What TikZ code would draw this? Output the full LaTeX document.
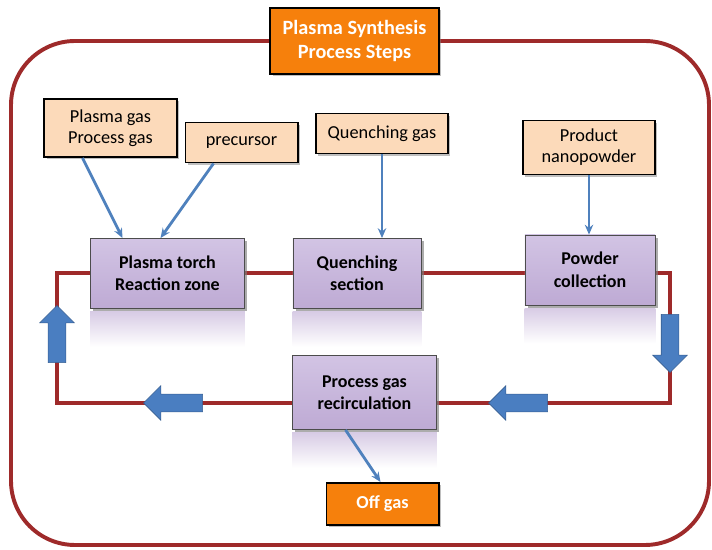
\documentclass[tikz,border=0pt]{standalone}
\usepackage{fontspec}
\setmainfont{Carlito}
\usetikzlibrary{arrows.meta, positioning, shapes.arrows, shadows, calc, backgrounds}
\definecolor{synRed}{RGB}{158,42,42}
\definecolor{synBlue}{RGB}{79,129,189}
\definecolor{synArrow}{RGB}{74,126,193}
\definecolor{synBand}{RGB}{38,82,140}
\definecolor{synPeach}{RGB}{252,218,186}
\definecolor{synLilac}{RGB}{190,170,212}
\definecolor{synLilacTop}{RGB}{210,196,228}
\definecolor{synOrange}{RGB}{246,128,12}

\begin{document}
\begin{tikzpicture}[x=0.025cm, y=-0.025cm,
    inbox/.style={draw=black, line width=1.4pt, fill=synPeach, align=center,
      font=\fontsize{13}{15}\selectfont,
      drop shadow={shadow xshift=1.5pt, shadow yshift=-1.5pt, opacity=0.5}},
    stepbox/.style={draw=black!70, line width=0.6pt, top color=synLilacTop, bottom color=synLilac,
      align=center, font=\bfseries\fontsize{12.8}{16}\selectfont, minimum height=1.75cm,
      drop shadow={shadow xshift=1.8pt, shadow yshift=-1.8pt, opacity=0.65}},
    outbox/.style={draw=black, line width=1.4pt, fill=synOrange, text=white, align=center,
      font=\bfseries\fontsize{13}{16}\selectfont,
      drop shadow={shadow xshift=1.5pt, shadow yshift=-1.5pt, opacity=0.5}},
    feed/.style={synBlue, line width=2pt, -{Stealth[length=7pt, width=6pt]}},
    loopline/.style={synRed, line width=2.2pt},
    frameline/.style={synRed, line width=2.8pt, rounded corners=1.6cm},
    flow/.style={single arrow, fill=synArrow, draw=synArrow!75!black, line width=0.4pt,
      inner xsep=0pt, inner ysep=0.2125cm, single arrow head extend=0.2125cm,
      minimum height=1.45cm,
      path picture={\fill[synBand] ([xshift=1.5pt]path picture bounding box.south west)
        rectangle ([xshift=4pt]path picture bounding box.north west);}},
    mirror/.style={top color=synLilac!60, bottom color=white, draw=none}
  ]
  \useasboundingbox (0,0) rectangle (712,550);
  \draw[frameline] (11,41) rectangle (709,545);

  \node[outbox, minimum width=4.2cm, minimum height=1.65cm,
    font=\bfseries\fontsize{14.4}{17.5}\selectfont] (title) at (354.5,41) {Plasma Synthesis\\Process Steps};

  % inputs
  \node[inbox, minimum width=3.3cm, minimum height=1.45cm] (gasIn) at (110.5,128) {Plasma gas\\Process gas};
  \node[inbox, minimum width=2.8cm, minimum height=1cm] (precursor) at (241.5,142.5) {precursor};
  \node[inbox, minimum width=3.3cm, minimum height=1cm] (quenchGas) at (382,133.5) {Quenching gas};
  \node[inbox, minimum width=3.3cm, minimum height=1.35cm] (product) at (589,147.5) {Product\\nanopowder};

  % process steps
  \node[stepbox, minimum width=3.85cm] (torch) at (167.5,273.5) {Plasma torch\\Reaction zone};
  \node[stepbox, minimum width=3.2cm] (quench) at (357,273.5) {Quenching\\section};
  \node[stepbox, minimum width=3.25cm] (powder) at (590,270) {Powder\\collection};
  \node[stepbox, minimum width=3.6cm, minimum height=1.85cm] (recirc) at (364.5,392.5) {Process gas\\recirculation};
  \node[outbox, minimum width=2.8cm, minimum height=1.05cm] (offGas) at (382.5,504) {Off gas};

  \begin{pgfonlayer}{background}
    \coordinate (nw) at (57,273);
    \coordinate (ne) at (670,273);
    \coordinate (se) at (670,403);
    \coordinate (sw) at (57,403);
    \draw[loopline] (nw) -- (ne) -- (se) -- (sw) -- cycle;
    \foreach \b in {torch, quench, powder, recirc}{
      \shade[mirror] ($(\b.south west)+(0,3)$) rectangle ($(\b.south east)+(0,38)$);
    }
  \end{pgfonlayer}

  \node[flow, rotate=90, minimum height=1.425cm] (upFlow) at (57,338.5) {};
  \node[flow, rotate=-90] (downFlow) at (670,339) {};
  \node[flow, rotate=180, minimum height=1.475cm] (backFlowA) at (177.5,403) {};
  \node[flow, rotate=180, minimum height=1.475cm] (backFlowB) at (522.5,403) {};

  \draw[feed] ($(gasIn.south)+(-28,0)$) -- ($(torch.north)+(-45,0)$);
  \draw[feed] ($(precursor.south)+(-28,0)$) -- ($(torch.north)+(-7,0)$);
  \draw[feed] (quenchGas.south) -- (quenchGas.south |- quench.north);
  \draw[feed] (product.south) -- (product.south |- powder.north);
  \draw[feed] ($(recirc.south)+(-19,0)$) -- ($(offGas.north)+(-2,0)$);
\end{tikzpicture}
\end{document}
